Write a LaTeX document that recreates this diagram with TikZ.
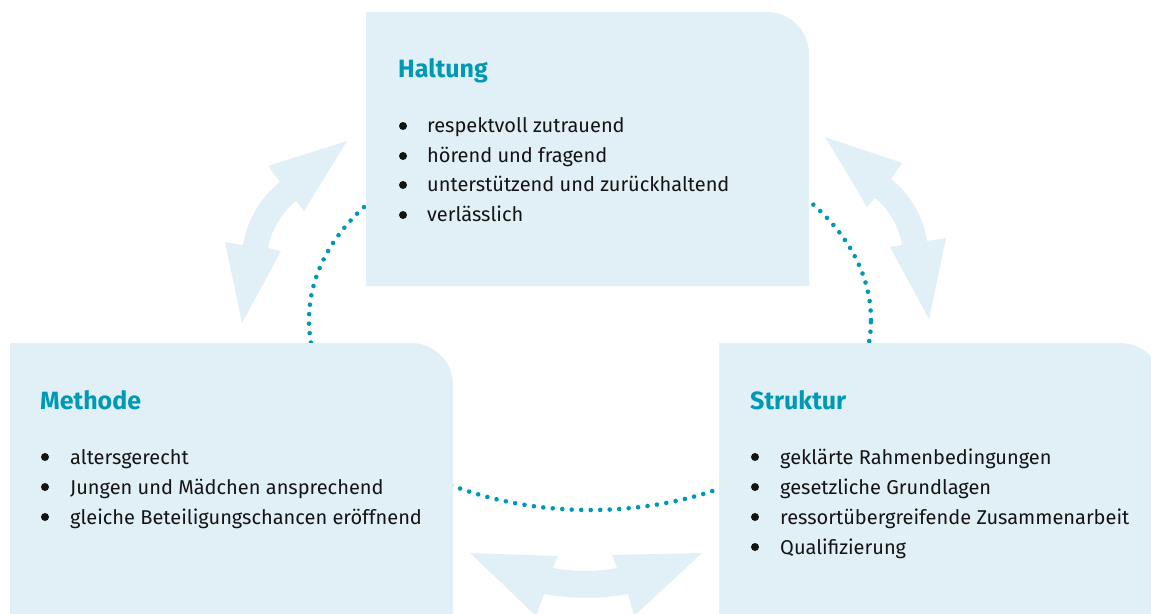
\documentclass[tikz,border=0pt]{standalone}
\usepackage{fontspec}
\setmainfont{Fira Sans}
\definecolor{boxfill}{HTML}{E1EFF7}
\definecolor{titlecol}{HTML}{0099B5}
\definecolor{textcol}{HTML}{141414}
\begin{document}
\begin{tikzpicture}[x=1pt,y=-1pt,
  box/.style={fill=boxfill},
  arr/.style={fill=boxfill},
  title/.style={anchor=base west, inner sep=0pt, font=\bfseries\fontsize{25}{25}\selectfont, text=titlecol},
  item/.style={anchor=base west, inner sep=0pt, font=\fontsize{20}{20}\selectfont, text=textcol},
  bul/.style={circle, fill=textcol, inner sep=0pt, minimum size=8pt},
  dots/.style={draw=titlecol, line width=4.6pt, line cap=round, dash pattern=on 0pt off 9.5pt}]
\useasboundingbox (0,0) rectangle (1151,613);
\clip (0,0) rectangle (1151,613);
% dotted cycle
\coordinate (cyc) at (590,320);
\draw[dots] (cyc) ellipse [x radius=281pt, y radius=190pt];
% boxes
\fill[box] (366,286) -- (366,12) -- (767,12) .. controls (790.2,12) and (809,30.8) .. (809,54) -- (809,286) -- cycle;
\fill[box] (10,620) -- (10,343) -- (411,343) .. controls (434.2,343) and (453,361.8) .. (453,385) -- (453,620) -- cycle;
\fill[box] (719,620) -- (719,343) -- (1120,343) .. controls (1143.2,343) and (1162,361.8) .. (1162,385) -- (1162,620) -- cycle;
% arrows
\fill[arr] (347,141) -- (304,211) -- (296,201) .. controls (282,212) and (271,230) .. (268,248) -- (281,251) -- (242,323) -- (225,242) -- (243,245) .. controls (247,220) and (260.5,197.5) .. (280,182) -- (268,166) -- cycle;
\fill[arr] (825,137) -- (902,163) -- (891,179) .. controls (910.5,194.5) and (923,216) .. (927,241) -- (946,238) -- (929,319) -- (890,247) -- (902,245) .. controls (899,227) and (889,209) .. (875,198) -- (867,207) -- cycle;
\fill[arr] (470,553) -- (558,556) -- (553,568) .. controls (575,572) and (595,572) .. (617,568) -- (612,555) -- (702,553) -- (634,616) -- (628,594) .. controls (600,599) and (572,599) .. (544,594) -- (536,616) -- cycle;
% Haltung
\node[title] (ht) at (398,77) {Haltung};
\node[bul] (hb1) at (403,126) {};
\node[item] (h1) at (427,132) {respektvoll zutrauend};
\node[bul] (hb2) at (403,156) {};
\node[item] (h2) at (427,162) {hörend und fragend};
\node[bul] (hb3) at (403,185) {};
\node[item] (h3) at (427,191) {unterstützend und zurückhaltend};
\node[bul] (hb4) at (403,215) {};
\node[item] (h4) at (427,221) {verlässlich};
% Methode
\node[title] (mt) at (40,409) {Methode};
\node[bul] (mb1) at (45,457) {};
\node[item] (m1) at (70,464) {altersgerecht};
\node[bul] (mb2) at (45,487) {};
\node[item] (m2) at (70,494) {Jungen und Mädchen ansprechend};
\node[bul] (mb3) at (45,517) {};
\node[item] (m3) at (70,524) {gleiche Beteiligungschancen eröffnend};
% Struktur
\node[title] (st) at (750,409) {Struktur};
\node[bul] (sb1) at (755,457) {};
\node[item] (s1) at (780,464) {geklärte Rahmenbedingungen};
\node[bul] (sb2) at (755,487) {};
\node[item] (s2) at (780,494) {gesetzliche Grundlagen};
\node[bul] (sb3) at (755,517) {};
\node[item] (s3) at (780,524) {ressortübergreifende Zusammenarbeit};
\node[bul] (sb4) at (755,547) {};
\node[item] (s4) at (780,554) {Qualifizierung};
\end{tikzpicture}
\end{document}
